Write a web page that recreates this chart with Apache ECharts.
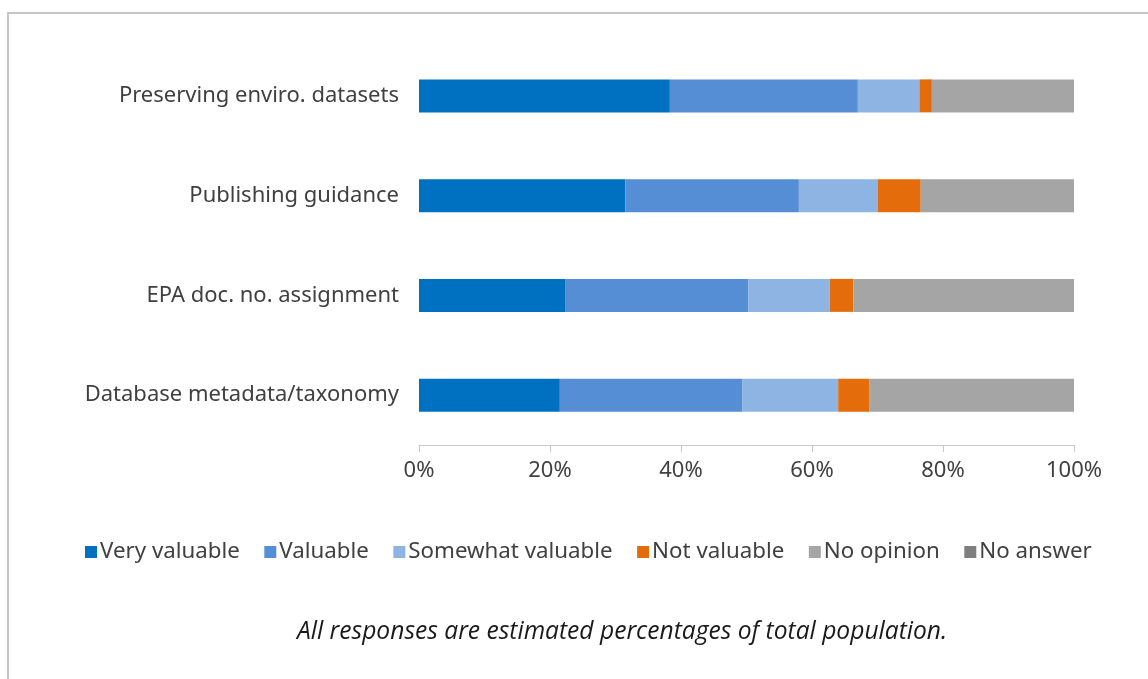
<!DOCTYPE html>
<html>
<head>
<meta charset="utf-8">
<script src="https://cdn.jsdelivr.net/npm/echarts@6/dist/echarts.min.js"></script>
<style>
html,body{margin:0;padding:0;background:#fff;}
#chart{width:1148px;height:679px;}
</style>
</head>
<body>
<div id="chart"></div>
<script>
const categories = ["Database metadata/taxonomy", "EPA doc. no. assignment", "Publishing guidance", "Preserving enviro. datasets"];
const seriesNames = ["Very valuable", "Valuable", "Somewhat valuable", "Not valuable", "No opinion", "No answer"];
const veryValuable = [21.5, 22.3, 31.5, 38.3];
const valuable = [27.9, 28.0, 26.5, 28.7];
const somewhatValuable = [14.6, 12.4, 12.0, 9.4];
const notValuable = [4.8, 3.6, 6.6, 1.9];
const noOpinion = [31.2, 33.7, 23.4, 21.7];
const noAnswer = [0, 0, 0, 0];
const xTicks = [0, 20, 40, 60, 80, 100];
const footnote = "All responses are estimated percentages of total population.";

const colors = ["#0070C0", "#558ED5", "#8EB4E3", "#E46C0A", "#A5A5A5", "#7F7F7F"];
const values = [veryValuable, valuable, somewhatValuable, notValuable, noOpinion, noAnswer];
const font = "'Noto Sans', 'Open Sans', sans-serif";

const chart = echarts.init(document.getElementById('chart'), null, {renderer: 'canvas'});
chart.setOption({
  animation: false,
  color: colors,
  textStyle: {fontFamily: font},
  grid: {left: 419, right: 74, top: 46, bottom: 234, containLabel: false},
  xAxis: {
    type: 'value', min: 0, max: 100, interval: 20,
    axisLine: {show: true, lineStyle: {color: '#c8c8c8', width: 1}},
    axisTick: {show: true, length: 7, lineStyle: {color: '#c8c8c8'}},
    splitLine: {show: false},
    axisLabel: {formatter: v => xTicks.includes(v) ? v + '%' : '', fontSize: 22, color: '#404040', margin: 15, fontFamily: font}
  },
  yAxis: {
    type: 'category', data: categories,
    axisLine: {show: false}, axisTick: {show: false},
    axisLabel: {fontSize: 22, color: '#404040', margin: 20, fontFamily: font}
  },
  legend: {
    data: seriesNames, left: 80, top: 536,
    itemWidth: 12, itemHeight: 12, itemGap: 24.5, icon: 'rect',
    textStyle: {fontSize: 22.3, color: '#404040', padding: [0, 0, 0, -2], fontFamily: font}
  },
  series: seriesNames.map((n, i) => ({
    name: n, type: 'bar', stack: 'total', data: values[i],
    barWidth: 33,
    itemStyle: {color: colors[i]}
  })),
  graphic: [
    {type: 'rect', shape: {x: 8, y: 13, width: 1150, height: 680}, style: {fill: 'none', stroke: '#c6c6c6', lineWidth: 2}, silent: true},
    {type: 'text', left: 297, top: 619, style: {text: footnote, font: "italic 24.6px 'Open Sans', sans-serif", fill: '#1a1a1a'}}
  ]
});
</script>
</body>
</html>
